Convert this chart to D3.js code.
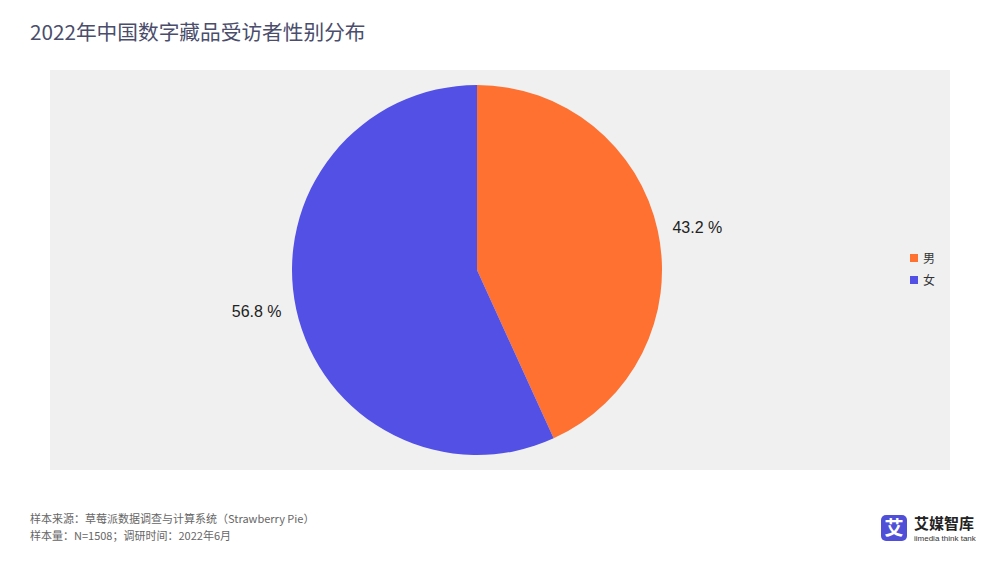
<!DOCTYPE html>
<html><head><meta charset="utf-8">
<script src="https://cdn.jsdelivr.net/npm/d3@7/dist/d3.min.js"></script>
<style>body{margin:0;background:#fff;}svg{display:block;font-family:"Liberation Sans","Noto Sans CJK SC",sans-serif;}</style>
</head><body>
<svg id="c" width="1000" height="563"></svg>
<script>
const categories = ["男", "女"];
const values = [43.2, 56.8];
const colors = ["#fe7131", "#5350e5"];
const title = "2022年中国数字藏品受访者性别分布";
const footer = ["样本来源：草莓派数据调查与计算系统（Strawberry Pie）", "样本量：N=1508；调研时间：2022年6月"];

const svg = d3.select("#c");
svg.append("text").attr("x", 30).attr("y", 40).attr("font-size", 20.7).attr("fill", "#4a4d6b")
  .attr("font-family", "'Noto Sans CJK SC', sans-serif").text(title);

svg.append("rect").attr("x", 50).attr("y", 70).attr("width", 900).attr("height", 400).attr("fill", "#f0f0f0");

const cx = 477, cy = 270, r = 185;
const pie = d3.pie().sort(null).value(d => d)(values);
const arc = d3.arc().innerRadius(0).outerRadius(r);
const g = svg.append("g").attr("transform", `translate(${cx},${cy})`);
g.selectAll("path").data(pie).join("path").attr("d", arc).attr("fill", (d, i) => colors[i]);

const lab = d3.arc().innerRadius(r + 15).outerRadius(r + 15);
g.selectAll("text.l").data(pie).join("text").attr("class", "l")
  .attr("x", d => lab.centroid(d)[0]).attr("y", d => lab.centroid(d)[1] + 5)
  .attr("text-anchor", d => (d.startAngle + d.endAngle) / 2 < Math.PI ? "start" : "end")
  .attr("font-size", 16).attr("fill", "#222")
  .text(d => d.data.toFixed(1) + " %");

const leg = svg.append("g").attr("transform", "translate(910,254)");
categories.forEach((c, i) => {
  leg.append("rect").attr("x", 0).attr("y", i * 22).attr("width", 8).attr("height", 8).attr("fill", colors[i]);
  leg.append("text").attr("x", 13).attr("y", i * 22 + 9).attr("font-size", 12).attr("fill", "#333")
    .attr("font-family", "'Noto Sans CJK SC', sans-serif").text(c);
});

footer.forEach((t, i) => {
  svg.append("text").attr("x", 30).attr("y", 523 + i * 17).attr("font-size", 11).attr("fill", "#666")
    .attr("font-family", "'Noto Sans CJK SC', sans-serif").text(t);
});

// logo
const lg = svg.append("g").attr("transform", "translate(881,515)");
lg.append("rect").attr("width", 26).attr("height", 26).attr("rx", 5).attr("fill", "#4f4fd8");
lg.append("text").attr("x", 13).attr("y", 20).attr("text-anchor", "middle").attr("font-size", 19)
  .attr("font-weight", "bold").attr("fill", "#fff").attr("font-family", "'Noto Sans CJK SC', sans-serif").text("艾");
lg.append("text").attr("x", 33).attr("y", 14).attr("font-size", 15).attr("font-weight", "bold").attr("fill", "#222")
  .attr("font-family", "'Noto Sans CJK SC', sans-serif").text("艾媒智库");
lg.append("text").attr("x", 33).attr("y", 26).attr("font-size", 8).attr("fill", "#333").text("iimedia think tank");
</script>
</body></html>
